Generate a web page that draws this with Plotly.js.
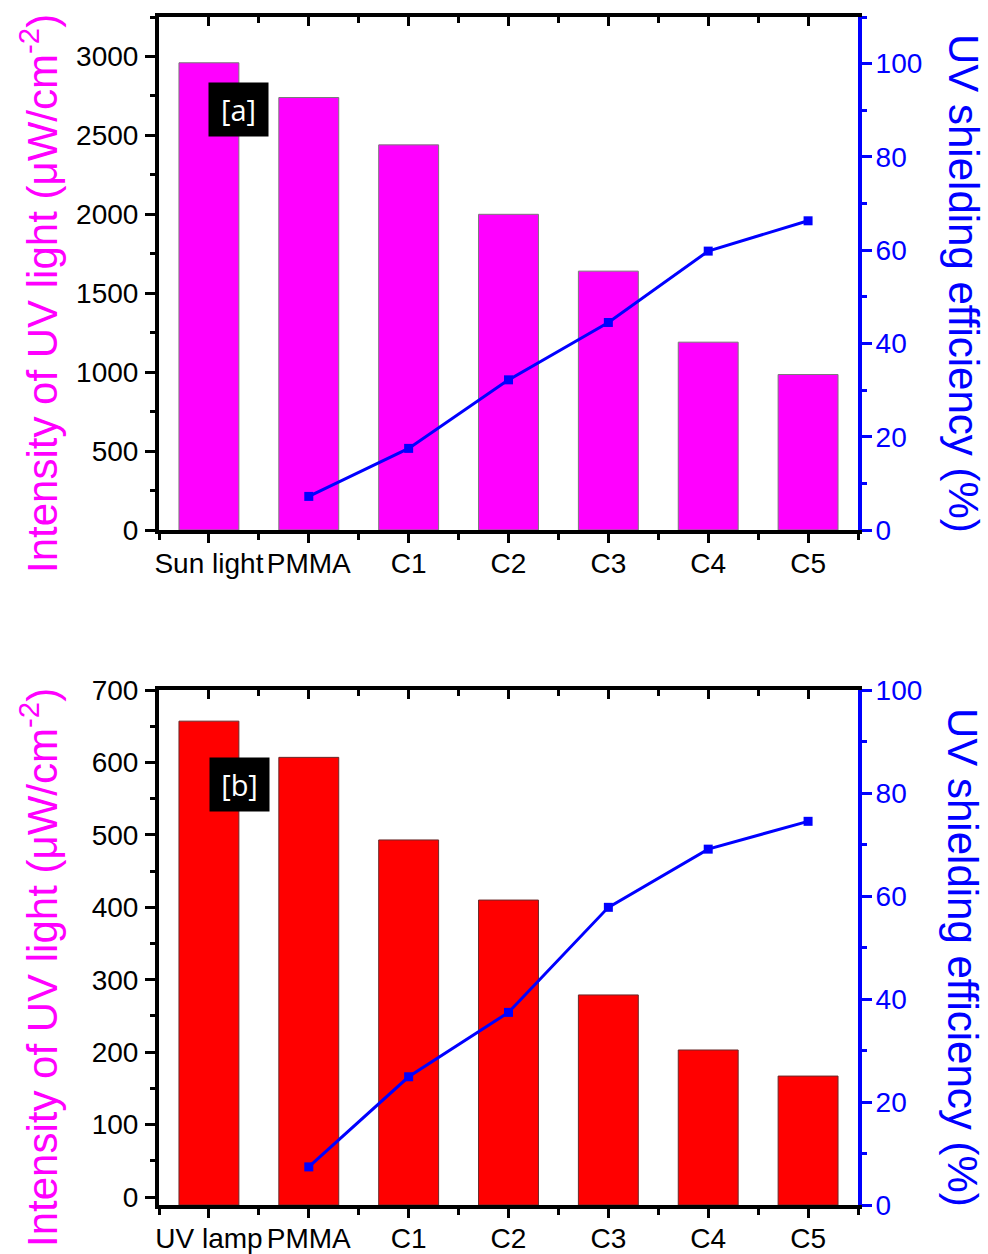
<!DOCTYPE html>
<html>
<head>
<meta charset="utf-8">
<script src="https://cdn.plot.ly/plotly-3.0.1.min.js"></script>
<style>
  html, body { margin: 0; padding: 0; background: #ffffff; }
  #chart { width: 988px; height: 1254px; }
</style>
</head>
<body>
<div id="chart"></div>
<script>
// Panel [a]: sunlight
const sunCategories = ['Sun light', 'PMMA', 'C1', 'C2', 'C3', 'C4', 'C5'];
const sunIntensity = [2960, 2740, 2440, 2000, 1640, 1190, 985];
const sunShielding = [null, 7.2, 17.5, 32.2, 44.5, 59.8, 66.3];

// Panel [b]: UV lamp
const lampCategories = ['UV lamp', 'PMMA', 'C1', 'C2', 'C3', 'C4', 'C5'];
const lampIntensity = [657, 607, 493, 410, 279, 203, 167];
const lampShielding = [null, 7.4, 24.9, 37.4, 57.8, 69.1, 74.5];

const W = 988, H = 1254;
const px = v => v / W;
const py = v => 1 - v / H;

const FONT = 'Liberation Sans, Arial, sans-serif';
const MAGENTA = '#ff00ff';
const BLUE = '#0000ff';
const TICK_SIZE = 28;

const idx = sunCategories.map((_, i) => i);
const bounds = sunCategories.map((_, i) => i - 0.5).concat([sunCategories.length - 0.5]);
const xRange = [-0.5, sunCategories.length - 0.5];

const xDomain = [px(159), px(858)];
const topDomain = [py(530), py(17)];
const botDomain = [py(1205), py(690)];

const lampLeftRange = [-11, 700];

function bottomX(labels, anchor) {
  return {
    domain: xDomain, anchor: anchor, range: xRange, type: 'linear',
    tickmode: 'array', tickvals: idx, ticktext: labels,
    ticks: 'outside', ticklen: 9, tickwidth: 3, tickcolor: '#000',
    ticklabelstandoff: -4,
    minor: { tickmode: 'array', tickvals: bounds, ticks: 'outside', ticklen: 6, tickwidth: 3, tickcolor: '#000' },
    showline: true, linewidth: 4, linecolor: '#000',
    showgrid: false, zeroline: false, automargin: false, fixedrange: true,
    tickfont: { family: FONT, size: TICK_SIZE, color: '#000' }
  };
}

function topX(over, anchor) {
  return {
    domain: xDomain, anchor: anchor, overlaying: over, side: 'top', range: xRange, type: 'linear',
    tickmode: 'array', tickvals: idx, showticklabels: false,
    ticks: 'inside', ticklen: 9, tickwidth: 3, tickcolor: '#000',
    minor: { tickmode: 'array', tickvals: bounds, ticks: 'inside', ticklen: 6, tickwidth: 3, tickcolor: '#000' },
    showline: true, linewidth: 4, linecolor: '#000',
    showgrid: false, zeroline: false, automargin: false, fixedrange: true
  };
}

function leftY(domain, anchor, range, dtick) {
  return {
    domain: domain, anchor: anchor, range: range,
    tickmode: 'linear', tick0: 0, dtick: dtick,
    ticks: 'outside', ticklen: 10, tickwidth: 3, tickcolor: '#000',
    ticklabelstandoff: 1,
    minor: { tick0: 0, dtick: dtick / 2, ticks: 'outside', ticklen: 5, tickwidth: 3, tickcolor: '#000' },
    showline: true, linewidth: 4, linecolor: '#000',
    showgrid: false, zeroline: false, automargin: false, fixedrange: true,
    tickfont: { family: FONT, size: TICK_SIZE, color: '#000' }
  };
}

function rightY(over, anchor, range) {
  return {
    overlaying: over, anchor: anchor, side: 'right', range: range,
    tickmode: 'linear', tick0: 0, dtick: 20,
    ticks: 'outside', ticklen: 10, tickwidth: 3, tickcolor: BLUE,
    ticklabelstandoff: -2,
    minor: { tick0: 0, dtick: 10, ticks: 'outside', ticklen: 5, tickwidth: 3, tickcolor: BLUE },
    showline: true, linewidth: 4, linecolor: BLUE,
    showgrid: false, zeroline: false, automargin: false, fixedrange: true,
    tickfont: { family: FONT, size: TICK_SIZE, color: BLUE }
  };
}

const lineStyle = { color: BLUE, width: 3 };
const markerStyle = { symbol: 'square', size: 9, color: BLUE };

const traces = [
  {
    type: 'bar', x: idx, y: sunIntensity, xaxis: 'x', yaxis: 'y', width: 0.6,
    marker: { color: MAGENTA, line: { color: '#7a7a7a', width: 1 } },
    hoverinfo: 'skip'
  },
  {
    type: 'scatter', mode: 'lines+markers', x: idx, y: sunShielding, xaxis: 'x', yaxis: 'y2',
    line: lineStyle, marker: markerStyle, connectgaps: false, hoverinfo: 'skip'
  },
  { type: 'scatter', x: [], y: [], xaxis: 'x2', yaxis: 'y', hoverinfo: 'skip' },
  {
    type: 'bar', x: idx, y: lampIntensity.map(v => v - lampLeftRange[0]), base: lampLeftRange[0],
    xaxis: 'x3', yaxis: 'y3', width: 0.6,
    marker: { color: '#ff0000', line: { color: '#6a2a2a', width: 1 } },
    hoverinfo: 'skip'
  },
  {
    type: 'scatter', mode: 'lines+markers', x: idx, y: lampShielding, xaxis: 'x3', yaxis: 'y4',
    line: lineStyle, marker: markerStyle, connectgaps: false, hoverinfo: 'skip'
  },
  { type: 'scatter', x: [], y: [], xaxis: 'x4', yaxis: 'y3', hoverinfo: 'skip' }
];

function title(text, x, y, angle, color) {
  return {
    text: text, xref: 'paper', yref: 'paper', x: px(x), y: py(y),
    xanchor: 'center', yanchor: 'middle', textangle: angle, showarrow: false,
    font: { family: FONT, size: 42, color: color }
  };
}

function panelTag(text, x, y) {
  return {
    text: text, xref: 'paper', yref: 'paper', x: px(x), y: py(y),
    xanchor: 'center', yanchor: 'middle', showarrow: false,
    bgcolor: '#000', borderpad: 0, width: 59, height: 53,
    font: { family: 'Open Sans, Noto Sans, sans-serif', size: 29, color: '#fff' }
  };
}

const layout = {
  width: W, height: H,
  margin: { l: 0, r: 0, t: 0, b: 0 },
  paper_bgcolor: '#fff', plot_bgcolor: 'rgba(0,0,0,0)',
  showlegend: false, bargap: 0.4,
  xaxis: bottomX(sunCategories, 'y'),
  xaxis2: topX('x', 'y'),
  yaxis: leftY(topDomain, 'x', [0, 3250], 500),
  yaxis2: rightY('y', 'x', [0, 110]),
  xaxis3: bottomX(lampCategories, 'y3'),
  xaxis4: topX('x3', 'y3'),
  yaxis3: leftY(botDomain, 'x3', lampLeftRange, 100),
  yaxis4: rightY('y3', 'x3', [0, 100]),
  annotations: [
    title('Intensity of UV light (μW/cm<sup>-2</sup>)', 39, 294, -90, MAGENTA),
    title('UV shielding efficiency (%)', 963, 283, 90, BLUE),
    title('Intensity of UV light (μW/cm<sup>-2</sup>)', 39, 968, -90, MAGENTA),
    title('UV shielding efficiency (%)', 963, 957, 90, BLUE),
    panelTag('[a]', 238.5, 109.5),
    panelTag('[b]', 239.5, 784)
  ]
};

Plotly.newPlot('chart', traces, layout, { staticPlot: true, displayModeBar: false });
</script>
</body>
</html>
